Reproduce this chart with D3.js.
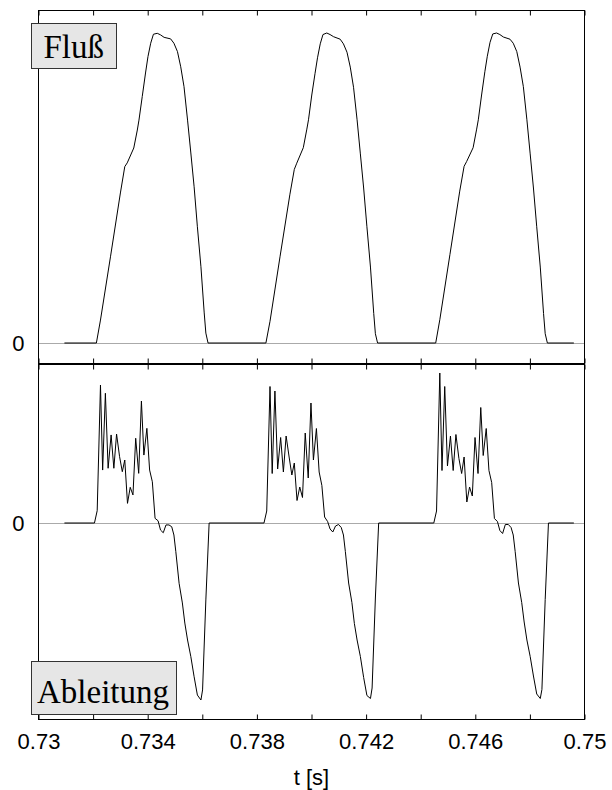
<!DOCTYPE html>
<html>
<head>
<meta charset="utf-8">
<script src="https://cdn.jsdelivr.net/npm/d3@7"></script>
<style>
  body { margin: 0; background: #fff; }
  svg { display: block; }
</style>
</head>
<body>
<svg id="chart" width="612" height="790"></svg>
<script>
// time in ms, values in arbitrary units (flux peak ~ 100)
const leadIn = [[730.95, 0]];
const leadOut = [[749.61, 0]];

const flux1 = [[732.12,0],[732.27,7.4],[732.64,28],[733.00,48.4],[733.16,56.9],[733.25,58.1],[733.49,62.9],[733.62,68.7],[733.68,71.9],[733.80,79.5],[733.92,87.1],[734.01,92.4],[734.11,96.7],[734.21,99.6],[734.35,99.9],[734.47,99.4],[734.60,98.6],[734.84,98.1],[734.96,96.7],[735.09,94.0],[735.21,89.1],[735.33,82.7],[735.46,71.9],[735.58,61.3],[735.70,50.4],[735.82,37.5],[735.95,24.6],[736.07,9.7],[736.13,3.2],[736.21,0]];
const flux2 = [[738.33,0],[738.48,7],[738.85,28],[739.21,48],[739.37,56],[739.46,58],[739.70,63],[739.83,69],[739.89,72],[740.01,80],[740.13,87],[740.22,92],[740.32,96.5],[740.42,99.5],[740.56,100],[740.68,99.5],[740.81,98.8],[741.05,98],[741.17,96.5],[741.30,93.8],[741.42,89],[741.54,82.5],[741.67,72],[741.79,61],[741.91,50],[742.03,37.5],[742.16,24.5],[742.28,9.5],[742.34,3],[742.42,0]];
const flux3 = [[744.55,0],[744.70,7.5],[745.07,28.5],[745.43,49],[745.59,57],[745.68,58.5],[745.92,63],[746.05,69],[746.11,72],[746.23,80],[746.35,87.5],[746.44,92.5],[746.54,97],[746.64,99.7],[746.78,100],[746.90,99.5],[747.03,98.7],[747.27,98],[747.39,96.7],[747.52,94],[747.64,89],[747.76,82.7],[747.89,72],[748.01,61],[748.13,50],[748.25,37.5],[748.38,24.5],[748.50,9.5],[748.56,3],[748.64,0]];

const deriv1 = [[732.05,0],[732.15,8.2],[732.27,92],[732.35,35.3],[732.45,86.5],[732.55,36.5],[732.66,58.7],[732.76,36.5],[732.86,59.3],[732.97,44.2],[733.07,34.2],[733.16,42],[733.26,13.1],[733.36,23.8],[733.46,18.7],[733.56,56.5],[733.67,33.1],[733.77,81.3],[733.86,45.3],[733.97,63.1],[734.07,35.3],[734.17,27.5],[734.27,3.1],[734.38,1.5],[734.47,-4.7],[734.57,-6.5],[734.67,-1.3],[734.78,-1.3],[734.88,-2.5],[734.96,-8],[735.03,-19.1],[735.15,-40.2],[735.27,-53.3],[735.36,-66.7],[735.46,-78],[735.58,-89.1],[735.70,-102.5],[735.82,-114.7],[735.95,-118],[736.01,-111.3],[736.13,-51.3],[736.25,0]];
const deriv2 = [[738.26,0],[738.36,8],[738.48,91],[738.56,33],[738.66,88],[738.76,36],[738.87,57],[738.97,34],[739.07,58],[739.18,44],[739.28,32],[739.37,40],[739.47,15],[739.57,24],[739.67,17],[739.77,60],[739.88,30],[739.98,80],[740.07,42],[740.18,63],[740.28,34],[740.38,25],[740.48,4],[740.59,1],[740.68,-4],[740.78,-6],[740.88,-2],[740.99,-1],[741.09,-3],[741.17,-8],[741.24,-19],[741.36,-40],[741.48,-53],[741.57,-67],[741.67,-78],[741.79,-89],[741.91,-103],[742.03,-115],[742.16,-117],[742.22,-110],[742.34,-50],[742.46,0]];
const deriv3 = [[744.48,0],[744.58,8],[744.70,100],[744.78,35],[744.88,91],[744.98,38],[745.09,58],[745.19,35],[745.29,59],[745.40,43],[745.50,33],[745.59,44],[745.69,14],[745.79,24],[745.89,18],[745.99,57],[746.10,33],[746.20,77],[746.29,45],[746.40,63],[746.50,35],[746.60,27],[746.70,3],[746.81,1],[746.90,-5],[747.00,-7],[747.10,-1],[747.21,-1],[747.31,-3],[747.39,-8],[747.46,-19],[747.58,-40],[747.70,-53],[747.79,-66],[747.89,-78],[748.01,-89],[748.13,-102],[748.25,-114],[748.38,-117],[748.44,-111],[748.56,-51],[748.68,0]];

const tickValues = [730, 732, 734, 736, 738, 740, 742, 744, 746, 748, 750];
const tickLabels = {730: "0.73", 734: "0.734", 738: "0.738", 742: "0.742", 746: "0.746", 750: "0.75"};
const panelNames = ["Fluß", "Ableitung"];
const xTitle = "t [s]";

const svg = d3.select("#chart");
const left = 38.5, right = 584.5;

const x = d3.scaleLinear().domain([730, 750]).range([left, right]);
const yFlux = d3.scaleLinear().domain([0, 100]).range([343, 33]);
const yDeriv = d3.scaleLinear().domain([0, 100]).range([523, 373]);

const panels = [
	{ top: 10.5, bottom: 363.5, y: yFlux, data: [...leadIn, ...flux1, ...flux2, ...flux3, ...leadOut] },
	{ top: 364.5, bottom: 719.5, y: yDeriv, data: [...leadIn, ...deriv1, ...deriv2, ...deriv3, ...leadOut] }
];

panels.forEach((p, i) => {
	// zero line
	svg.append("line")
		.attr("x1", left).attr("x2", right)
		.attr("y1", Math.round(p.y(0)) + 0.5).attr("y2", Math.round(p.y(0)) + 0.5)
		.attr("stroke", "#aaaaaa").attr("stroke-width", 1);

	// curve
	const line = d3.line().x(d => x(d[0])).y(d => p.y(d[1]));
	svg.append("path")
		.datum(p.data)
		.attr("d", line)
		.attr("fill", "none")
		.attr("stroke", "#000")
		.attr("stroke-width", 1);

	// frame
	svg.append("rect")
		.attr("x", left).attr("y", p.top)
		.attr("width", right - left).attr("height", p.bottom - p.top)
		.attr("fill", "none").attr("stroke", "#000").attr("stroke-width", 1);

	// inner ticks at top and bottom edge
	const topAxis = svg.append("g")
		.attr("transform", `translate(0,${p.top})`)
		.call(d3.axisBottom(x).tickValues(tickValues).tickSizeInner(5).tickSizeOuter(0).tickFormat(""));
	const botAxis = svg.append("g")
		.attr("transform", `translate(0,${p.bottom})`)
		.call(d3.axisBottom(x).tickValues(tickValues).tickSizeInner(-5).tickSizeOuter(0).tickPadding(13.5)
			.tickFormat(i === 1 ? (d => tickLabels[d] || "") : ""));
	[topAxis, botAxis].forEach(a => {
		a.select(".domain").remove();
		a.selectAll("line").attr("stroke", "#000");
		a.selectAll("text")
			.attr("font-family", "Liberation Sans, Arial, sans-serif")
			.attr("font-size", 22).attr("fill", "#000");
	});

	// zero label
	svg.append("text")
		.attr("x", 24.5).attr("y", p.y(0)).attr("dy", "0.35em")
		.attr("text-anchor", "end")
		.attr("font-family", "Liberation Sans, Arial, sans-serif")
		.attr("font-size", 22)
		.text("0");
});

// panel name boxes
const boxes = [
	{ x: 31.5, y: 23.5, w: 85, h: 45, tx: 43.5, ty: 57.5 },
	{ x: 31.5, y: 661.5, w: 145, h: 53, tx: 37, ty: 702.5 }
];
boxes.forEach((b, i) => {
	svg.append("rect")
		.attr("x", b.x).attr("y", b.y).attr("width", b.w).attr("height", b.h)
		.attr("fill", "#e6e6e6").attr("stroke", "#333").attr("stroke-width", 1);
	svg.append("text")
		.attr("x", b.tx).attr("y", b.ty)
		.attr("font-family", "Liberation Serif, Times New Roman, serif")
		.attr("font-size", 33)
		.text(panelNames[i]);
});

svg.append("text")
	.attr("x", (left + right) / 2).attr("y", 785)
	.attr("text-anchor", "middle")
	.attr("font-family", "Liberation Sans, Arial, sans-serif")
	.attr("font-size", 22)
	.text(xTitle);
</script>
</body>
</html>
